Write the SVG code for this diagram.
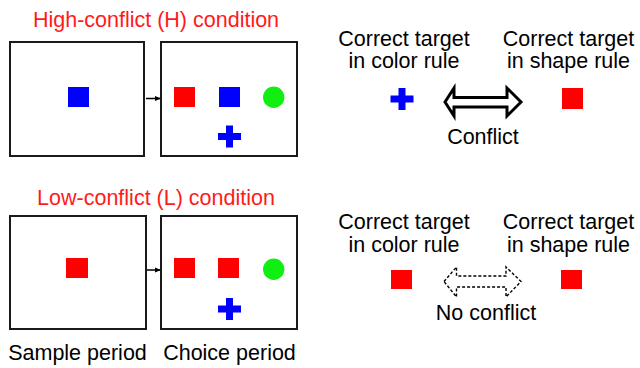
<svg xmlns="http://www.w3.org/2000/svg" width="640" height="368" viewBox="0 0 640 368">
<style>
text{font-family:"Liberation Sans",Arial,sans-serif;font-size:21.5px;text-anchor:middle;fill:#000}
.title{fill:#ff1a1a}
.box{fill:#fff;stroke:#1a1a1a;stroke-width:2}
.r{fill:#ff0000}
.b{fill:#0000ff}
.g{fill:#11ee11}
.link{stroke:#000;stroke-width:1.5;fill:none}
</style>
<defs>
<marker id="ah" markerWidth="6" markerHeight="6" refX="5" refY="3" orient="auto" markerUnits="userSpaceOnUse">
<path d="M0,0.5 L6,3 L0,5.5 Z" fill="#000"/>
</marker>
<path id="cross" d="M-3.5,-11 H3.5 V-3.5 H11.5 V3.5 H3.5 V11 H-3.5 V3.5 H-11.5 V-3.5 H-3.5 Z"/>
</defs>
<rect width="640" height="368" fill="#fff"/>

<text class="title" x="156" y="27">High-conflict (H) condition</text>
<text class="title" x="156" y="205">Low-conflict (L) condition</text>

<g id="h-sample">
<rect class="box" x="10" y="42" width="134" height="114"/>
<rect class="b" x="68" y="87" width="21" height="20"/>
</g>
<g id="h-choice">
<rect class="box" x="161" y="42" width="136" height="114"/>
<rect class="r" x="174" y="87" width="21" height="20"/>
<rect class="b" x="219" y="87" width="21" height="20"/>
<circle class="g" cx="273.7" cy="97.3" r="10.7"/>
<use href="#cross" class="b" x="229.5" y="136.5"/>
</g>
<g id="l-sample">
<rect class="box" x="10" y="216" width="136" height="113"/>
<rect class="r" x="66" y="258" width="22" height="20"/>
</g>
<g id="l-choice">
<rect class="box" x="161" y="216" width="136" height="113"/>
<rect class="r" x="174" y="258" width="21" height="20"/>
<rect class="r" x="218" y="258" width="21" height="20"/>
<circle class="g" cx="273.7" cy="269.3" r="10.7"/>
<use href="#cross" class="b" x="229.5" y="309"/>
</g>

<g id="connectors">
<line class="link" x1="146" y1="98.5" x2="160" y2="98.5" marker-end="url(#ah)"/>
<line class="link" x1="147" y1="270" x2="160" y2="270" marker-end="url(#ah)"/>
<path d="M445,102 L454,88 L454,97.5 L507,97.5 L507,88 L521,102 L507,116 L507,107 L454,107 L454,116 Z" fill="#fff" stroke="#000" stroke-width="3" stroke-linejoin="miter"/>
<path d="M444,281.5 L456.5,267 L456.5,276 L506,276 L506,267 L521,281.5 L506,297 L506,287 L456.5,287 L456.5,297 Z" fill="#fff" stroke="#000" stroke-width="1.4" stroke-dasharray="3,2"/>
</g>

<g id="h-color-target">
<text x="404" y="46">Correct target</text>
<text x="404" y="68">in color rule</text>
<use href="#cross" class="b" x="402" y="99"/>
</g>
<g id="h-shape-target">
<text x="568.5" y="46">Correct target</text>
<text x="568.5" y="68">in shape rule</text>
<rect class="r" x="562" y="88" width="21" height="21"/>
</g>
<text x="483" y="144">Conflict</text>

<g id="l-color-target">
<text x="404" y="229">Correct target</text>
<text x="404" y="251.5">in color rule</text>
<rect class="r" x="391" y="270" width="21" height="19"/>
</g>
<g id="l-shape-target">
<text x="568.5" y="229">Correct target</text>
<text x="568.5" y="251.5">in shape rule</text>
<rect class="r" x="561" y="270" width="21" height="19"/>
</g>
<text x="486" y="320">No conflict</text>

<text x="77.5" y="360">Sample period</text>
<text x="229.5" y="360">Choice period</text>
</svg>
